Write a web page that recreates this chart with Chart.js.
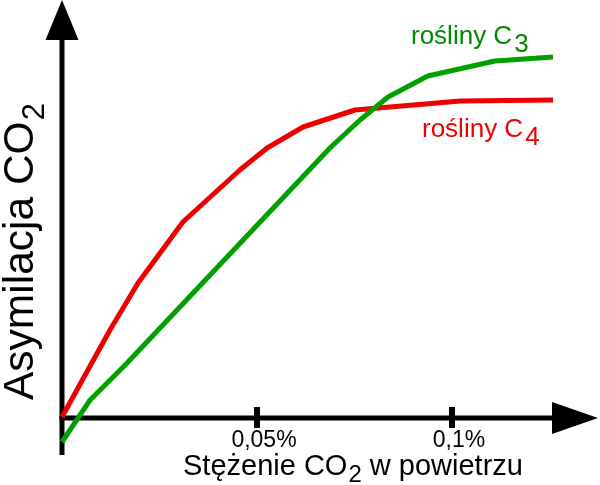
<!DOCTYPE html>
<html><head><meta charset="utf-8">
<script src="https://cdn.jsdelivr.net/npm/chart.js@4/dist/chart.umd.min.js"></script>
<style>html,body{margin:0;padding:0;background:#fff;}</style>
</head><body>
<canvas id="c" width="600" height="485"></canvas>
<script>
// ---- data ----
const c3Conc = [0, 0.0072, 0.0162, 0.0687, 0.0764, 0.0836, 0.0938, 0.1110, 0.1259];   // CO2 concentration, %
const c3Assim = [-2.4, 1.8, 5.3, 27.0, 29.8, 32.1, 34.2, 35.7, 36.1];                 // assimilation, arbitrary units
const c4Conc = [0, 0.0123, 0.0195, 0.0310, 0.0456, 0.0526, 0.0618, 0.0751, 0.1021, 0.1259];
const c4Assim = [0.1, 8.8, 13.5, 19.6, 24.8, 27.0, 29.1, 30.8, 31.7, 31.8];
const xTickValues = [0.05, 0.1];
const xTickLabels = ['0,05%', '0,1%'];
const seriesMain = ['rośliny C', 'rośliny C'];
const seriesSub = ['3', '4'];

// ---- styling / geometry (not data) ----
const FONT = '"Liberation Sans", Arial, Helvetica, sans-serif';
const GREEN_LINE = '#00a000', RED_LINE = '#ee0000';
const GREEN_TEXT = '#008a00', RED_TEXT = '#f00000';
const X_MAX = 0.12564, Y_MIN = 0, Y_MAX = 41.8;
const Y_AXIS_BOTTOM = -3.7, X_ARROW_TIP = 0.13744;

const toPts = (xs, ys) => xs.map((x, i) => ({x: x, y: ys[i]}));

const axesPlugin = {
  id: 'axes',
  beforeDatasetsDraw(chart) {
    const ctx = chart.ctx, xs = chart.scales.x, ys = chart.scales.y;
    const x0 = xs.getPixelForValue(0), y0 = ys.getPixelForValue(0);
    const top = chart.chartArea.top, right = chart.chartArea.right;
    const yBottom = ys.getPixelForValue(Y_AXIS_BOTTOM);
    const tipX = xs.getPixelForValue(X_ARROW_TIP);
    ctx.save();
    ctx.strokeStyle = '#000'; ctx.fillStyle = '#000'; ctx.lineWidth = 5; ctx.lineCap = 'butt';
    // y axis
    ctx.beginPath(); ctx.moveTo(x0, yBottom); ctx.lineTo(x0, top + 40); ctx.stroke();
    ctx.beginPath(); ctx.moveTo(x0 - 16.5, top + 40); ctx.lineTo(x0 + 16.5, top + 40); ctx.lineTo(x0, top); ctx.closePath(); ctx.fill();
    // x axis
    ctx.beginPath(); ctx.moveTo(x0 - 2.5, y0); ctx.lineTo(right, y0); ctx.stroke();
    ctx.beginPath(); ctx.moveTo(right, y0 - 16); ctx.lineTo(right, y0 + 16); ctx.lineTo(tipX, y0); ctx.closePath(); ctx.fill();
    // tick marks
    xTickValues.forEach(v => {
      const px = xs.getPixelForValue(v);
      ctx.fillRect(px - 3, y0 - 11, 6, 21);
    });
    ctx.restore();
  },
  afterDraw(chart) {
    const ctx = chart.ctx;
    ctx.save();
    ctx.textBaseline = 'alphabetic';
    ctx.fillStyle = '#000';
    // x title (normal flow, subscript 2)
    let x = 183;
    ctx.font = '29px ' + FONT;
    ctx.fillText('Stężenie CO', x, 475);
    x += ctx.measureText('Stężenie CO').width;
    ctx.font = '24px ' + FONT;
    ctx.fillText('2', x + 1, 482);
    x += ctx.measureText('2').width + 1;
    ctx.font = '29px ' + FONT;
    ctx.fillText(' w powietrzu', x, 475);
    // y title
    ctx.save();
    ctx.translate(33, 400);
    ctx.rotate(-Math.PI / 2);
    ctx.font = '42.5px ' + FONT;
    ctx.fillText('Asymilacja CO', 0, 0);
    const w = ctx.measureText('Asymilacja CO').width;
    ctx.font = '31px ' + FONT;
    ctx.fillText('2', w + 1, 11);
    ctx.restore();
    // series labels
    const lab = [[411, 44, GREEN_TEXT], [422, 137, RED_TEXT]];
    lab.forEach((l, i) => {
      ctx.fillStyle = l[2];
      ctx.font = '26px ' + FONT;
      ctx.fillText(seriesMain[i], l[0], l[1]);
      const mw = ctx.measureText(seriesMain[i]).width;
      ctx.fillText(seriesSub[i], l[0] + mw + 2, l[1] + 8);
    });
    ctx.restore();
  }
};

new Chart(document.getElementById('c'), {
  type: 'line',
  data: {
    datasets: [
      {label: seriesMain[0] + seriesSub[0], data: toPts(c3Conc, c3Assim), borderColor: GREEN_LINE, borderWidth: 5,
       pointRadius: 0, tension: 0, fill: false, clip: false, borderJoinStyle: 'round'},
      {label: seriesMain[1] + seriesSub[1], data: toPts(c4Conc, c4Assim), borderColor: RED_LINE, borderWidth: 5,
       pointRadius: 0, tension: 0, fill: false, clip: false, borderJoinStyle: 'round'}
    ]
  },
  options: {
    responsive: false,
    animation: false,
    events: [],
    layout: {padding: {left: 62, right: 48, top: 0, bottom: 0}},
    plugins: {legend: {display: false}, tooltip: {enabled: false}},
    scales: {
      x: {
        type: 'linear', min: 0, max: X_MAX, position: 'bottom',
        grid: {display: false, drawTicks: false}, border: {display: false},
        afterBuildTicks: s => { s.ticks = xTickValues.map(v => ({value: v})); },
        afterFit: s => { s.height = 67; },
        ticks: {
          autoSkip: false, maxRotation: 0, minRotation: 0, padding: 9, labelOffset: 7,
          color: '#000', font: {family: FONT, size: 23},
          callback: (v, i) => xTickLabels[i]
        }
      },
      y: {type: 'linear', min: Y_MIN, max: Y_MAX, display: false}
    }
  },
  plugins: [axesPlugin]
});
</script>
</body></html>
